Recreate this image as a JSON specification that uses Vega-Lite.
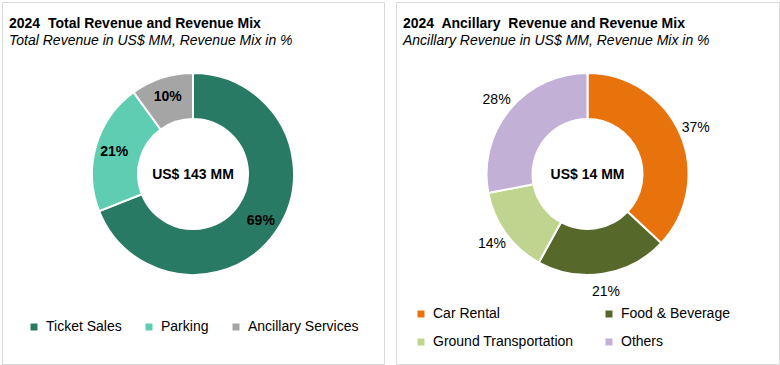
{
  "$schema": "https://vega.github.io/schema/vega-lite/v6.json",
  "background": "white",
  "padding": {"left": 1, "top": 1, "right": 0, "bottom": 0},
  "spacing": 10,
  "config": {
    "font": "Liberation Sans",
    "view": {"stroke": "#d9d9d9", "strokeWidth": 1},
    "title": {"anchor": "start", "frame": "group", "offset": -46, "dx": 7, "fontSize": 14, "fontWeight": "bold", "color": "black", "subtitleFontSize": 14, "subtitleFontStyle": "italic", "subtitleColor": "black", "subtitlePadding": 3, "subtitleFont": "Liberation Sans"},
    "legend": {"padding": 0, "symbolType": "square", "symbolSize": 49, "symbolStrokeWidth": 0, "labelFontSize": 14, "labelColor": "black", "labelFont": "Liberation Sans", "labelOffset": 5, "title": null}
  },
  "resolve": {"scale": {"color": "independent"}, "legend": {"color": "independent"}},
  "hconcat": [
    {
      "width": 382,
      "height": 362,
      "view": {"stroke": "#d9d9d9", "strokeWidth": 1, "fill": "white"},
      "title": {"text": "2024\u00a0 Total Revenue and Revenue Mix", "subtitle": "Total Revenue in US$ MM, Revenue Mix in %"},
      "data": {"values": [
        {"segment": "Ticket Sales", "share": 69, "label": "69%", "order": 1},
        {"segment": "Parking", "share": 21, "label": "21%", "order": 2},
        {"segment": "Ancillary Services", "share": 10, "label": "10%", "order": 3}
      ]},
      "layer": [
        {
          "mark": {"type": "arc", "innerRadius": 55, "outerRadius": 101, "stroke": "white", "strokeWidth": 2, "yOffset": -9},
          "encoding": {
            "theta": {"field": "share", "type": "quantitative", "stack": true},
            "order": {"field": "order", "type": "quantitative"},
            "color": {"field": "segment", "type": "nominal",
              "scale": {"domain": ["Ticket Sales", "Parking", "Ancillary Services"], "range": ["#287A64", "#5ECDB1", "#A5A5A5"]},
              "legend": {"orient": "none", "legendX": 25, "legendY": 318, "direction": "horizontal", "columnPadding": 20}}
          }
        },
        {
          "mark": {"type": "text", "radius": 82, "fontWeight": "bold", "fontSize": 14, "color": "black", "yOffset": -8},
          "encoding": {
            "theta": {"field": "share", "type": "quantitative", "stack": true},
            "order": {"field": "order", "type": "quantitative"},
            "text": {"field": "label", "type": "nominal"}
          }
        },
        {
          "data": {"values": [{"t": "US$ 143 MM"}]},
          "mark": {"type": "text", "fontWeight": "bold", "fontSize": 14, "color": "black", "yOffset": -8},
          "encoding": {"text": {"field": "t", "type": "nominal"}}
        }
      ]
    },
    {
      "width": 383,
      "height": 362,
      "view": {"stroke": "#d9d9d9", "strokeWidth": 1, "fill": "white"},
      "title": {"text": "2024\u00a0 Ancillary\u00a0 Revenue and Revenue Mix", "subtitle": "Ancillary Revenue in US$ MM, Revenue Mix in %"},
      "data": {"values": [
        {"segment": "Car Rental", "share": 37, "label": "37%", "order": 1},
        {"segment": "Food & Beverage", "share": 21, "label": "21%", "order": 2},
        {"segment": "Ground Transportation", "share": 14, "label": "14%", "order": 3},
        {"segment": "Others", "share": 28, "label": "28%", "order": 4}
      ]},
      "layer": [
        {
          "mark": {"type": "arc", "innerRadius": 55, "outerRadius": 101, "stroke": "white", "strokeWidth": 2, "yOffset": -9},
          "encoding": {
            "theta": {"field": "share", "type": "quantitative", "stack": true},
            "order": {"field": "order", "type": "quantitative"},
            "color": {"field": "segment", "type": "nominal",
              "scale": {"domain": ["Car Rental", "Food & Beverage", "Ground Transportation", "Others"], "range": ["#E8720C", "#56692B", "#BFD48E", "#C3B0D7"]},
              "legend": {"orient": "none", "legendX": 18, "legendY": 305, "direction": "horizontal", "columns": 2, "columnPadding": 28, "rowPadding": 14}}
          }
        },
        {
          "mark": {"type": "text", "radius": 118, "fontSize": 14, "color": "black", "yOffset": -8},
          "encoding": {
            "theta": {"field": "share", "type": "quantitative", "stack": true},
            "order": {"field": "order", "type": "quantitative"},
            "text": {"field": "label", "type": "nominal"}
          }
        },
        {
          "data": {"values": [{"t": "US$ 14 MM"}]},
          "mark": {"type": "text", "fontWeight": "bold", "fontSize": 14, "color": "black", "yOffset": -8},
          "encoding": {"text": {"field": "t", "type": "nominal"}}
        }
      ]
    }
  ]
}
